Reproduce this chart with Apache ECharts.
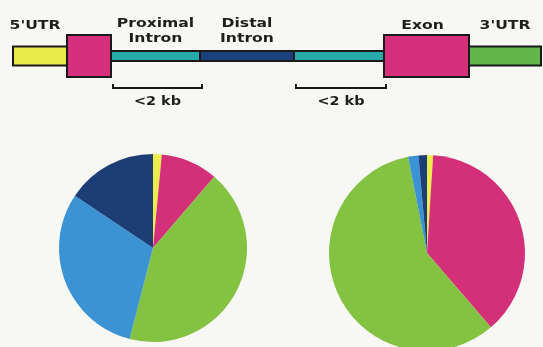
<!DOCTYPE html>
<html>
<head>
<meta charset="utf-8">
<script src="https://cdn.jsdelivr.net/npm/echarts@6/dist/echarts.min.js"></script>
<style>
html,body{margin:0;padding:0;background:#f7f7f4;}
#chart{width:543px;height:347px;}
</style>
</head>
<body>
<div id="chart"></div>
<script>
// ---- Gene structure (relative segment lengths) ----
const segmentNames = ["5'UTR", "Exon 1", "Proximal Intron", "Distal Intron", "Proximal Intron", "Exon", "3'UTR"];
const segmentLengths = [54, 44, 89, 94, 90, 85, 72];
const segmentKinds = ["utr", "exon", "intron", "intron", "intron", "exon", "utr"];
const segmentLabels = ["5'UTR", "", "Proximal\nIntron", "Distal\nIntron", "", "Exon", "3'UTR"];
const bracketLabels = ["", "", "<2 kb", "", "<2 kb", "", ""];

// ---- Pie charts (share of each region, %) ----
const sliceNames = ["5'UTR", "Exon", "3'UTR", "Proximal Intron", "Distal Intron"];
const leftPieValues = [1.5, 9.8, 42.7, 30.4, 15.6];
const rightPieValues = [1.0, 37.7, 58.2, 1.7, 1.4];

// ---- styles ----
const segColors = ["#eaea4a", "#d62f7b", "#27aaa8", "#1c3f7e", "#27aaa8", "#d62f7b", "#63b649"];
const kindHeights = { utr: 19, exon: 42, intron: 10 };
const labelShift = [-5, 0, 0, 0, 0, -4, 0];
const sliceColors = ["#ecec4c", "#d4307a", "#84c242", "#3b93d3", "#1d3d76"];
const FONT = "DejaVu Sans";
const SX = 1.2;

let acc = 0;
const segData = segmentLengths.map((len, i) => {
  const s = acc; acc += len;
  return [s, acc, i];
});
const total = acc;
// draw introns first so boxes sit on top
const drawOrder = segData.filter(d => segmentKinds[d[2]] === "intron")
  .concat(segData.filter(d => segmentKinds[d[2]] !== "intron"));

function renderSeg(params, api) {
  const i = api.value(2);
  const p0 = api.coord([api.value(0), 0.5]);
  const p1 = api.coord([api.value(1), 0.5]);
  const kind = segmentKinds[i];
  const h = kindHeights[kind];
  const cy = p0[1];
  const children = [{
    type: "rect",
    shape: { x: p0[0], y: cy - h / 2, width: p1[0] - p0[0], height: h },
    style: { fill: segColors[i], stroke: "#1a1a1a", lineWidth: 2 }
  }];
  const cx = (p0[0] + p1[0]) / 2;
  if (segmentLabels[i]) {
    const twoLine = segmentLabels[i].indexOf("\n") >= 0;
    children.push({
      type: "text",
      x: cx + labelShift[i], y: twoLine ? cy - 25 : cy - 30,
      scaleX: SX,
      style: {
        text: segmentLabels[i], x: 0, y: 0,
        align: "center", verticalAlign: "middle",
        font: "bold 13px '" + FONT + "'", lineHeight: 15,
        fill: "#1e1e1e"
      }
    });
  }
  if (bracketLabels[i]) {
    const x0 = p0[0] + 2, x1 = p1[0] + 2, yb = cy + 32;
    children.push({
      type: "polyline",
      shape: { points: [[x0, yb - 4], [x0, yb], [x1, yb], [x1, yb - 4]] },
      style: { stroke: "#1a1a1a", lineWidth: 2, fill: null }
    });
    children.push({
      type: "text",
      x: cx + 2, y: cy + 46,
      scaleX: SX,
      style: {
        text: bracketLabels[i], x: 0, y: 0,
        align: "center", verticalAlign: "middle",
        font: "bold 12px '" + FONT + "'", fill: "#1e1e1e"
      }
    });
  }
  return { type: "group", children: children };
}

function pieData(vals) {
  return sliceNames.map((n, k) => ({ name: n, value: vals[k], itemStyle: { color: sliceColors[k] } }));
}

const chart = echarts.init(document.getElementById("chart"), null, { renderer: "canvas" });
chart.setOption({
  backgroundColor: "#f7f7f4",
  animation: false,
  grid: { left: 13, right: 2, top: 36, height: 40 },
  xAxis: { type: "value", min: 0, max: total, show: false },
  yAxis: { type: "value", min: 0, max: 1, show: false },
  series: [
    {
      type: "custom",
      renderItem: renderSeg,
      data: drawOrder,
      encode: { x: [0, 1] },
      silent: true,
      clip: false
    },
    {
      type: "pie",
      center: [153, 248],
      radius: 94,
      startAngle: 90,
      clockwise: true,
      label: { show: false },
      labelLine: { show: false },
      emphasis: { disabled: true },
      silent: true,
      data: pieData(leftPieValues)
    },
    {
      type: "pie",
      center: [427, 253],
      radius: 98,
      startAngle: 90,
      clockwise: true,
      label: { show: false },
      labelLine: { show: false },
      emphasis: { disabled: true },
      silent: true,
      data: pieData(rightPieValues)
    }
  ]
});
</script>
</body>
</html>
